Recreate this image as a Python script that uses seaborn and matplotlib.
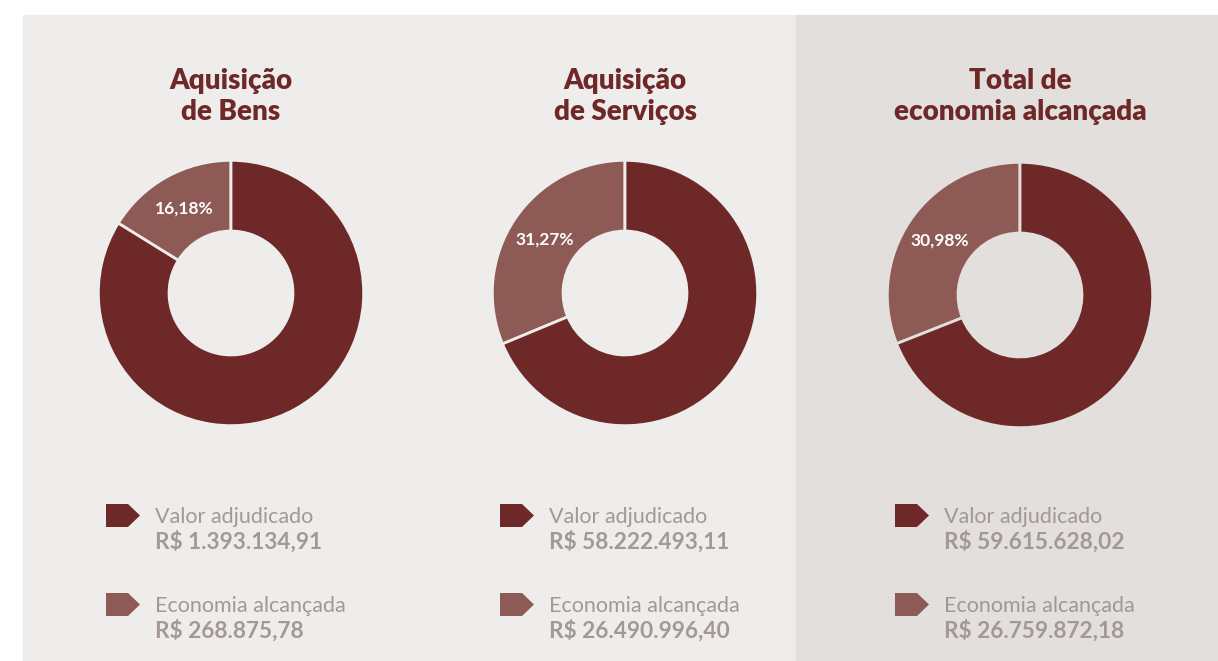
import matplotlib
matplotlib.use("Agg")
import matplotlib.pyplot as plt
import seaborn as sns
from matplotlib.patches import Rectangle, Polygon

# Data
titles = ["Aquisição\nde Bens", "Aquisição\nde Serviços", "Total de\neconomia alcançada"]
valor_adjudicado = [1393134.91, 58222493.11, 59615628.02]
economia_alcancada = [268875.78, 26490996.40, 26759872.18]
legend_names = ["Valor adjudicado", "Economia alcançada"]

sns.set_theme(style="white")
plt.rcParams["font.family"] = ["Lato", "DejaVu Sans"]

dark, light = sns.color_palette(["#6E2828", "#8E5A56"])
grey_text = "#A39893"
panel_colors = ["#EFEDEB", "#EFEDEB", "#E2DFDC"]

W, H = 1218, 661
fig = plt.figure(figsize=(W / 100, H / 100), dpi=100)
fig.patch.set_facecolor("white")

# background panels
fig.add_artist(Rectangle((23 / W, 0), (796 - 23) / W, (H - 15) / H,
                         transform=fig.transFigure, color=panel_colors[0], zorder=0))
fig.add_artist(Rectangle((796 / W, 0), (W - 796) / W, (H - 15) / H,
                         transform=fig.transFigure, color=panel_colors[2], zorder=0))


def brl(v):
    s = f"{v:,.2f}".replace(",", "X").replace(".", ",").replace("X", ".")
    return "R$ " + s


centers = [(231, 293), (625, 293), (1020, 295)]
R = 134

for i, (cx, cy) in enumerate(centers):
    bg = panel_colors[i]
    ax = fig.add_axes([(cx - R) / W, 1 - (cy + R) / H, 2 * R / W, 2 * R / H])
    ax.pie([economia_alcancada[i], valor_adjudicado[i]],
           colors=[light, dark], startangle=90, counterclock=True,
           wedgeprops=dict(width=0.533, edgecolor=bg, linewidth=2),
           autopct=lambda p: f"{p:.2f}%".replace(".", ",") if p < 50 else "",
           pctdistance=0.73,
           textprops=dict(color="white", fontsize=12.5, fontweight="bold"))
    ax.set_xlim(-1.01, 1.01)
    ax.set_ylim(-1.01, 1.01)
    ax.set_aspect("equal")
    ax.axis("off")

    # title
    line1, line2 = titles[i].split("\n")
    fig.text(cx / W, 1 - 89 / H, line1, ha="center", va="baseline",
             fontsize=20, fontweight="heavy", color=dark)
    fig.text(cx / W, 1 - 120 / H, line2, ha="center", va="baseline",
             fontsize=20, fontweight="heavy", color=dark)

    # legend
    vals = [valor_adjudicado[i], economia_alcancada[i]]
    cols = [dark, light]
    for j, top in enumerate([504, 593]):
        mx = cx - 125
        pts = [(mx, top), (mx + 22, top), (mx + 34, top + 11.5),
               (mx + 22, top + 23), (mx, top + 23)]
        fig.add_artist(Polygon([(x / W, 1 - y / H) for x, y in pts], closed=True,
                               transform=fig.transFigure, color=cols[j], lw=0))
        fig.text((cx - 76) / W, 1 - (top + 19) / H, legend_names[j],
                 ha="left", va="baseline", fontsize=15.5, color=grey_text)
        fig.text((cx - 76) / W, 1 - (top + 45) / H, brl(vals[j]),
                 ha="left", va="baseline", fontsize=16.3, fontweight="bold",
                 color=grey_text)

fig.savefig("out.png", dpi=100, facecolor=fig.get_facecolor())
